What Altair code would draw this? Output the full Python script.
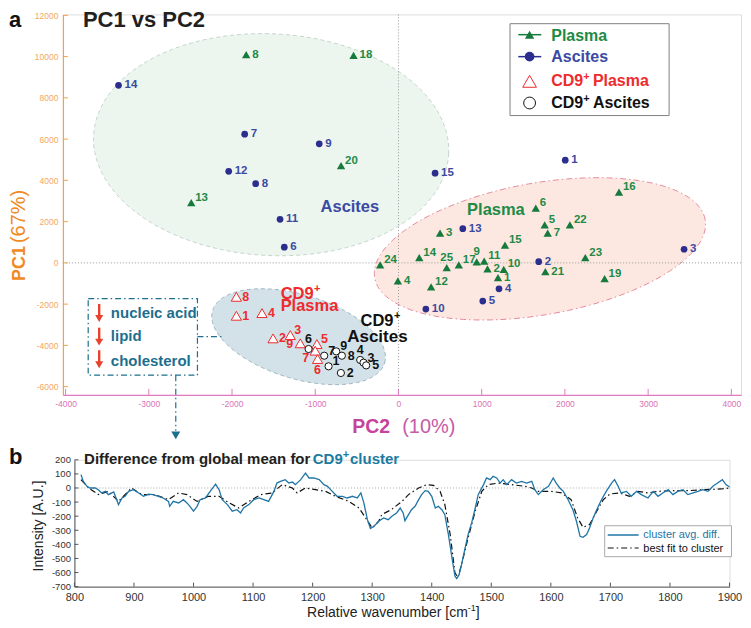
import numpy as np
import pandas as pd
import altair as alt

# ---------------- Panel a : PCA scores ----------------
plasma_id = [8, 18, 20, 13, 6, 16, 5, 7, 22, 3, 15, 14, 25, 17, 9, 11, 2, 10, 1, 24, 4, 12, 21, 23, 19]
plasma_pc2 = [-1830, -540, -690, -2490, 1650, 2650, 1757, 1793, 2060, 500, 1280, 250, 580, 725, 940,
              1030, 1070, 1265, 1196, -220, -7, 392, 1765, 2245, 2477]
plasma_pc1 = [10100, 10060, 4710, 2920, 2650, 3435, 1840, 1440, 1840, 1440, 860, 260, -230, -100, 50,
              80, -290, -320, -710, -100, -870, -1160, -420, 260, -760]

ascites_id = [14, 7, 9, 12, 8, 11, 6, 15, 1, 13, 2, 3, 4, 5, 10]
ascites_pc2 = [-3364, -1848, -952, -2040, -1716, -1423, -1372, 440, 2004, 773, 1685, 3432, 1208, 1013, 329]
ascites_pc1 = [8610, 6240, 5770, 4440, 3840, 2110, 760, 4350, 4980, 1660, 60, 660, -1260, -1850, -2240]

cd9p_id = [8, 1, 4, 2, 3, 9, 5, 7, 6]
cd9p_pc2 = [-1948, -1948, -1640, -1507, -1300, -1180, -980, -1000, -972]
cd9p_pc1 = [-1645, -2564, -2435, -3660, -3500, -3900, -3935, -4257, -4660]

cd9a_id = [6, 7, 9, 8, 1, 2, 4, 3, 5]
cd9a_pc2 = [-1080, -892, -748, -680, -840, -692, -460, -420, -388]
cd9a_pc1 = [-4176, -4500, -4290, -4500, -5015, -5338, -4707, -4838, -4969]

x_ticks_a = [-4000, -3000, -2000, -1000, 0, 1000, 2000, 3000, 4000]
y_ticks_a = [-6000, -4000, -2000, 0, 2000, 4000, 6000, 8000, 10000, 12000]

# cluster ellipses: centre in data units, semi-axes (px) and tilt (deg)
ell_cx = [-1530, 1700, -1200]
ell_cy = [5730, 680, -3580]
ell_a = [178, 168, 90]
ell_b = [111, 66, 42]
ell_ang = [-3, 10, -17]

# label placement codes (layout only)
plasma_pos = ['r', 'r', 'ur', 'ur', 'ur', 'ur', 'ur', 'r', 'ur', 'r', 'ur', 'ur', 'u', 'ur', 'u', 'ur', 'r',
              'ur', 'r', 'ur', 'r', 'ur', 'r', 'ur', 'ur']
ascites_pos = ['r'] * 15
cd9p_pos = ['r', 'r', 'r', 'r', 'ur', 'l', 'ur', 'dl', 'b']
cd9a_pos = ['u', 'ur', 'ur', 'r', 'ur', 'r', 'u', 'ur', 'r']

# ---------------- Panel b : spectra ----------------
diff_wn = [811, 815, 821, 826, 835, 840, 846, 852, 857, 866, 871, 874, 880, 885, 891, 899, 908, 916, 924, 932,
           941, 949, 958, 960, 966, 975, 983, 989, 994, 1000, 1006, 1011, 1020, 1028, 1037, 1043, 1048, 1057,
           1065, 1073, 1079, 1084, 1093, 1101, 1110, 1118, 1126, 1135, 1140, 1146, 1154, 1160, 1166, 1171,
           1180, 1188, 1194, 1202, 1211, 1219, 1225, 1233, 1241, 1250, 1258, 1267, 1275, 1281, 1286, 1292,
           1297, 1303, 1311, 1319, 1327, 1333, 1341, 1347, 1352, 1355, 1361, 1366, 1372, 1378, 1383, 1389,
           1394, 1400, 1406, 1411, 1417, 1422, 1428, 1434, 1439, 1442, 1446, 1450, 1456, 1461, 1467, 1473,
           1478, 1487, 1492, 1498, 1503, 1509, 1515, 1520, 1526, 1534, 1542, 1551, 1559, 1568, 1573, 1579,
           1587, 1596, 1604, 1609, 1615, 1621, 1629, 1637, 1643, 1649, 1654, 1660, 1665, 1671, 1677, 1685,
           1693, 1702, 1707, 1713, 1718, 1727, 1735, 1744, 1752, 1763, 1772, 1780, 1788, 1797, 1805, 1813,
           1822, 1830, 1839, 1847, 1855, 1864, 1872, 1880, 1888, 1894, 1900]
diff_val = [95, 47, 12, 0, 0, -12, -35, -24, -47, -28, -83, -118, -71, -59, -24, -12, -35, -59, -43, -47,
            -59, -71, -95, -130, -95, -106, -83, -106, -130, -165, -130, -83, -71, -24, 28, -12, -83, -118,
            -165, -154, -177, -142, -118, -83, -71, -83, -95, -24, 35, 47, 59, 35, 42, 24,
            59, 106, 71, 71, 59, 24, 12, -24, -59, -59, -71, -59, -71, -35, -106, -225,
            -288, -272, -236, -213, -225, -201, -177, -142, -177, -232, -189, -154, -130, -83, -47, -19,
            -24, -59, -142, -130, -154, -189, -331, -496, -626, -643, -614, -544, -426, -331, -248, -142,
            -47, 24, 71, 59, 83, 71, 35, 59, 24, 59, 35, 47, 35, 47, -12, -47,
            -12, 12, 71, 35, 0, -24, -83, -154, -236, -343, -350, -331, -284, -213, -154, -83,
            -24, 35, 59, 12, -35, -24, -59, -24, -47, -71, -24, -59, -35, -12, -47, -24,
            -12, -47, -35, -24, -12, -24, 12, 35, 59, 24, 7]

fit_wn = [811, 824, 840, 857, 874, 896, 913, 935, 958, 975, 989, 1006, 1025, 1043, 1060, 1076, 1093, 1113,
          1132, 1149, 1166, 1174, 1188, 1205, 1222, 1238, 1261, 1278, 1289, 1300, 1311, 1316, 1332, 1350,
          1361, 1378, 1392, 1403, 1414, 1422, 1431, 1439, 1444, 1450, 1461, 1473, 1484, 1495, 1512, 1534,
          1556, 1568, 1579, 1601, 1618, 1634, 1645, 1654, 1665, 1677, 1688, 1699, 1715, 1732, 1746, 1763,
          1780, 1802, 1830, 1858, 1886, 1900]
fit_val = [59, 0, -47, -24, -95, 0, -47, -47, -83, -35, -47, -95, -59, -59, -106, -142, -95, -47,
           -35, 24, 0, -35, 0, -12, -24, -59, -95, -142, -213, -284, -236, -189, -154, -95,
           -47, 0, 24, 19, -24, -118, -331, -603, -634, -544, -355, -165, -24, 24, 35, 24,
           12, 0, -24, -24, -35, -83, -213, -279, -260, -165, -83, -43, -35, -59, -24, -35,
           -24, -19, -19, -12, -7, 0]

x_ticks_b = list(range(800, 1901, 100))
y_ticks_b = list(range(-700, 201, 100))

# ---------------- styling ----------------
FONT = "Liberation Sans"
GREEN, GREEN_T = "#157A3C", "#1E8A46"
BLUE, BLUE_T = "#2B2E8C", "#3A4AA3"
RED = "#EE2B2E"
ORANGE, ORANGE_L = "#F08A24", "#F5A75E"
PINK, PINK_L = "#C4449B", "#D872B8"
TEAL = "#1D6F8E"
LINEB = "#1F75A6"
DASHDOT = [6, 3, 1.5, 3]

W1, H1 = 679, 381
X0, X1 = -4032, 4116
Y0, Y1 = -6400, 12046
KX = W1 / (X1 - X0)
KY = H1 / (Y1 - Y0)

XS = alt.Scale(domain=[X0, X1], nice=False, zero=False)
YS = alt.Scale(domain=[Y0, Y1], nice=False, zero=False)
AX = alt.Axis(values=x_ticks_a, ticks=False, grid=False, domainColor="#E07CBF", domainWidth=1.2,
              labelColor=PINK_L, labelFontSize=8.5, labelPadding=5, title=None, labelFont=FONT,
              labelExpr="datum.value + ''", labelFlush=False)
AY = alt.Axis(values=y_ticks_a, ticks=False, grid=False, domainColor="#F5A04A", domainWidth=1.2,
              labelColor=ORANGE_L, labelFontSize=8.5, labelPadding=5, title=None, labelFont=FONT,
              labelExpr="datum.value + ''")

one = pd.DataFrame({"k": [0]})


def ptext(txt, x, y, size, color, bold=True, align="left", baseline="alphabetic", angle=0, font=FONT):
    kw = dict(text=txt, fontSize=size, color=color, fontWeight="bold" if bold else "normal",
              align=align, baseline=baseline, font=font)
    if angle:
        kw["angle"] = angle
    return alt.Chart(one).mark_text(**kw).encode(x=alt.value(x), y=alt.value(y))


def prule(x1, y1, x2, y2, color, width=1.0, dash=None):
    kw = dict(color=color, strokeWidth=width)
    if dash:
        kw["strokeDash"] = dash
    return alt.Chart(one).mark_rule(**kw).encode(x=alt.value(x1), y=alt.value(y1),
                                                 x2=alt.value(x2), y2=alt.value(y2))


def prect(x1, y1, x2, y2, stroke, fill="white", fill_op=1.0, width=1.0, dash=None):
    kw = dict(stroke=stroke, fill=fill, fillOpacity=fill_op, strokeWidth=width)
    if dash:
        kw["strokeDash"] = dash
    return alt.Chart(one).mark_rect(**kw).encode(x=alt.value(x1), y=alt.value(y1),
                                                 x2=alt.value(x2), y2=alt.value(y2))


def ppoint(x, y, shape, size, color, filled=True, sw=1.0):
    if filled:
        m = alt.Chart(one).mark_point(shape=shape, size=size, filled=True, color=color, opacity=1,
                                      strokeWidth=0)
    else:
        m = alt.Chart(one).mark_point(shape=shape, size=size, filled=True, fill="white", stroke=color,
                                      strokeWidth=sw, opacity=1)
    return m.encode(x=alt.value(x), y=alt.value(y))


def ellipse_frames(cx, cy, a, b, ang, n=181):
    th = np.radians(ang)
    c, s = np.cos(th), np.sin(th)
    xr = np.sqrt((a * c) ** 2 + (b * s) ** 2)
    X = -xr * np.cos(np.linspace(0, np.pi, n))
    A = s * s / a ** 2 + c * c / b ** 2
    B = 2 * X * s * c * (1 / a ** 2 - 1 / b ** 2)
    C = X ** 2 * (c * c / a ** 2 + s * s / b ** 2) - 1
    D = np.sqrt(np.clip(B * B - 4 * A * C, 0, None))
    Yu = (-B + D) / (2 * A)
    Yl = (-B - D) / (2 * A)
    area = pd.DataFrame({"x": cx + X / KX, "y": cy + Yu / KY, "y2": cy + Yl / KY})
    t = np.linspace(0, 2 * np.pi, 241)
    Xb = a * np.cos(t) * c - b * np.sin(t) * s
    Yb = a * np.cos(t) * s + b * np.sin(t) * c
    border = pd.DataFrame({"x": cx + Xb / KX, "y": cy + Yb / KY, "o": np.arange(len(t))})
    return area, border


ell_fill = ["#EDF5EF", "#FCE8E0", "#D3E2E9"]
ell_stroke = ["#C3D5C9", "#E48A9C", "#9DB5C0"]
ell_dash = [[4, 3], DASHDOT, [4, 3]]

layers = []
for i in range(3):
    area, border = ellipse_frames(ell_cx[i], ell_cy[i], ell_a[i], ell_b[i], ell_ang[i])
    layers.append(alt.Chart(area).mark_area(color=ell_fill[i], opacity=1).encode(
        x=alt.X("x:Q", scale=XS, axis=AX), y=alt.Y("y:Q", scale=YS, axis=AY), y2="y2:Q"))
    layers.append(alt.Chart(border).mark_line(color=ell_stroke[i], strokeDash=ell_dash[i],
                                              strokeWidth=1).encode(
        x=alt.X("x:Q", scale=XS, axis=AX), y=alt.Y("y:Q", scale=YS, axis=AY), order="o:Q"))

# zero lines
layers.append(alt.Chart(one).mark_rule(color="#9A9A9A", strokeDash=[1, 2], strokeWidth=1).encode(
    x=alt.datum(0)))
layers.append(alt.Chart(one).mark_rule(color="#9A9A9A", strokeDash=[1, 2], strokeWidth=1).encode(
    y=alt.datum(0)))

# inward ticks
layers.append(alt.Chart(pd.DataFrame({"v": y_ticks_a})).mark_rule(color="#F5A04A").encode(
    y=alt.Y("v:Q", scale=YS, axis=AY), x=alt.value(0), x2=alt.value(5)))
layers.append(alt.Chart(pd.DataFrame({"v": x_ticks_a})).mark_rule(color="#E07CBF").encode(
    x=alt.X("v:Q", scale=XS, axis=AX), y=alt.value(H1), y2=alt.value(H1 - 6)))

LAB = {"r": (6, 0, "left"), "ur": (4, -5, "left"), "u": (0, -10, "center"),
       "l": (-7, 1, "right"), "dl": (-6, 7, "right"), "b": (0, 11, "center")}


def series(ids, pc2, pc1, pos, shape, size, color, tcolor, filled, tsize):
    df = pd.DataFrame({"id": ids, "pc2": pc2, "pc1": pc1, "pos": pos})
    enc = dict(x=alt.X("pc2:Q", scale=XS, axis=AX), y=alt.Y("pc1:Q", scale=YS, axis=AY))
    if filled:
        pts = alt.Chart(df).mark_point(shape=shape, size=size, filled=True, color=color, opacity=1,
                                       strokeWidth=0).encode(**enc)
    else:
        pts = alt.Chart(df).mark_point(shape=shape, size=size, filled=True, fill="white", stroke=color,
                                       strokeWidth=1, opacity=1).encode(**enc)
    out = [pts]
    for p, (dx, dy, al) in LAB.items():
        sub = df[df["pos"] == p]
        if len(sub) == 0:
            continue
        out.append(alt.Chart(sub).mark_text(dx=dx, dy=dy, align=al, baseline="middle", fontSize=tsize,
                                            fontWeight="bold", color=tcolor, font=FONT).encode(
            text="id:N", **enc))
    return out


layers += series(plasma_id, plasma_pc2, plasma_pc1, plasma_pos, "triangle-up", 70, GREEN, GREEN_T, True, 11.5)
layers += series(ascites_id, ascites_pc2, ascites_pc1, ascites_pos, "circle", 45, BLUE, BLUE_T, True, 11.5)
layers += series(cd9p_id, cd9p_pc2, cd9p_pc1, cd9p_pos, "triangle-up", 105, RED, RED, False, 12.5)
layers += series(cd9a_id, cd9a_pc2, cd9a_pc1, cd9a_pos, "circle", 52, "#111111", "#111111", False, 12.5)

# cluster names
layers += [
    ptext("Ascites", 258, 197.7, 16.5, BLUE_T),
    ptext("Plasma", 404.7, 201, 16.5, GREEN_T),
    ptext("CD9", 218, 285, 16.5, RED), ptext("+", 251.5, 278, 11, RED), ptext("Plasma", 218, 297, 16.5, RED),
    ptext("CD9", 298, 312, 16.5, "#111111"), ptext("+", 331.5, 305, 11, "#111111"),
    ptext("Ascites", 284.7, 327.7, 17, "#111111"),
]

# annotation box
layers += [
    prect(25.3, 284.7, 134.7, 361.3, TEAL, fill="white", fill_op=0, width=1.2, dash=DASHDOT),
    prule(134.7, 322.7, 160, 322.7, TEAL, 1.2, DASHDOT),
    prule(113, 361.3, 113, 417, TEAL, 1.2, DASHDOT),
    ppoint(113, 421.5, "triangle-down", 80, TEAL),
]
for ytop in [290, 313.7, 336.3]:
    layers += [prule(36.3, ytop, 36.3, ytop + 12, "#E8412C", 2.4),
               ppoint(36.3, ytop + 14.5, "triangle-down", 64, "#E8412C")]
layers += [ptext("nucleic acid", 48, 303.7, 15, TEAL), ptext("lipid", 48, 327, 15, TEAL),
           ptext("cholesterol", 48, 352, 15, TEAL)]

# legend
layers += [
    prect(447.7, 9.3, 607, 101.3, "#808080", width=1),
    prule(456, 20.3, 479, 20.3, GREEN, 1.5), ppoint(467.3, 20.3, "triangle-up", 87, GREEN),
    prule(456, 42.3, 479, 42.3, BLUE, 1.5), ppoint(467.3, 42.3, "circle", 95, BLUE),
    ppoint(467.3, 67, "triangle-up", 190, RED, filled=False),
    ppoint(467.3, 88.7, "circle", 140, "#111111", filled=False),
    ptext("Plasma", 489, 26.3, 16, GREEN_T),
    ptext("Ascites", 489, 48, 16, BLUE_T),
    ptext("CD9", 489, 72, 16, RED), ptext("+", 521, 66, 11, RED), ptext("Plasma", 530.7, 72, 16, RED),
    ptext("CD9", 489, 93.7, 16, "#111111"), ptext("+", 521, 87.7, 11, "#111111"),
    ptext("Ascites", 530.7, 93.7, 16, "#111111"),
]

# titles
layers += [
    ptext("a", -54, -4, 22, "#111111", baseline="top"),
    ptext("PC1 vs PC2", 20, -4, 22, "#231F20", baseline="top"),
    ptext("PC1", -37.5, 267, 18, ORANGE, align="left", baseline="alphabetic", angle=270),
    ptext("(67%)", -37.5, 229, 20, ORANGE, bold=False, align="left", baseline="alphabetic", angle=270),
    ptext("PC2", 289.7, 419.3, 19.5, PINK),
    ptext("(10%)", 339.7, 419.3, 20, "#C65BA8", bold=False),
]

top = alt.layer(*layers).properties(width=W1, height=H1)

# ---------------- Panel b chart ----------------
W2, H2 = 656, 127
XS2 = alt.Scale(domain=[800, 1900], nice=False, zero=False)
YS2 = alt.Scale(domain=[-700, 200], nice=False, zero=False)
AX2 = alt.Axis(values=x_ticks_b, ticks=False, grid=False, domainColor="#555555", labelColor="#333333",
               labelFontSize=11, labelPadding=5, title=None, labelFont=FONT, labelExpr="datum.value + ''",
               labelFlush=False)
AY2 = alt.Axis(values=y_ticks_b, ticks=False, grid=False, domainColor="#555555", labelColor="#333333",
               labelFontSize=9.5, labelPadding=4, title=None, labelFont=FONT, labelExpr="datum.value + ''")

b_layers = [
    alt.Chart(one).mark_rule(color="#AAAAAA", strokeDash=[1, 2], strokeWidth=1).encode(
        y=alt.Y(datum=0, scale=YS2, axis=AY2)),
    alt.Chart(pd.DataFrame({"v": y_ticks_b})).mark_rule(color="#555555").encode(
        y=alt.Y("v:Q", scale=YS2, axis=AY2), x=alt.value(0), x2=alt.value(4)),
    alt.Chart(pd.DataFrame({"v": x_ticks_b})).mark_rule(color="#555555").encode(
        x=alt.X("v:Q", scale=XS2, axis=AX2), y=alt.value(H2), y2=alt.value(H2 - 4)),
    alt.Chart(pd.DataFrame({"wn": fit_wn, "v": fit_val})).mark_line(
        color="#111111", strokeWidth=1.2, strokeDash=DASHDOT).encode(
        x=alt.X("wn:Q", scale=XS2, axis=AX2), y=alt.Y("v:Q", scale=YS2, axis=AY2)),
    alt.Chart(pd.DataFrame({"wn": diff_wn, "v": diff_val})).mark_line(
        color=LINEB, strokeWidth=1.3).encode(
        x=alt.X("wn:Q", scale=XS2, axis=AX2), y=alt.Y("v:Q", scale=YS2, axis=AY2)),
    # legend
    prect(531, 66, 658, 97, "#AAAAAA", width=1),
    prule(534, 75.3, 565, 75.3, LINEB, 1.5),
    ptext("cluster avg. diff.", 569.7, 78.8, 11, LINEB, bold=False),
    prule(534, 88.3, 565, 88.3, "#111111", 1.2, DASHDOT),
    ptext("best fit to cluster", 569.7, 92, 11, "#111111", bold=False),
    # titles
    ptext("b", -65.5, 4, 22, "#111111"),
    ptext("Difference from global mean for", 9.7, 4.3, 15, "#231F20"),
    ptext("CD9", 238.7, 4.3, 15, "#1B7BA0"), ptext("+", 268.7, -2, 11, "#1B7BA0"),
    ptext("cluster", 276, 4.3, 15, "#1B7BA0"),
    ptext("Intensity [A.U.]", -35.5, 66.3, 14, "#222222", bold=False, align="center", baseline="middle",
          angle=270),
    ptext("Relative wavenumber [cm", 233, 157, 14, "#222222", bold=False),
    ptext("-1", 394, 151, 9, "#222222", bold=False),
    ptext("]", 402, 157, 14, "#222222", bold=False),
]
bottom = alt.layer(*b_layers).properties(width=W2, height=H2)

chart = alt.vconcat(top, bottom, spacing=65, center=True, bounds="flush").configure_view(
    stroke=None).configure(font=FONT).properties(
    padding={"left": 0, "top": 0, "right": 0, "bottom": 0})

chart.save("out.html", embed_options={"renderer": "svg", "actions": False})
